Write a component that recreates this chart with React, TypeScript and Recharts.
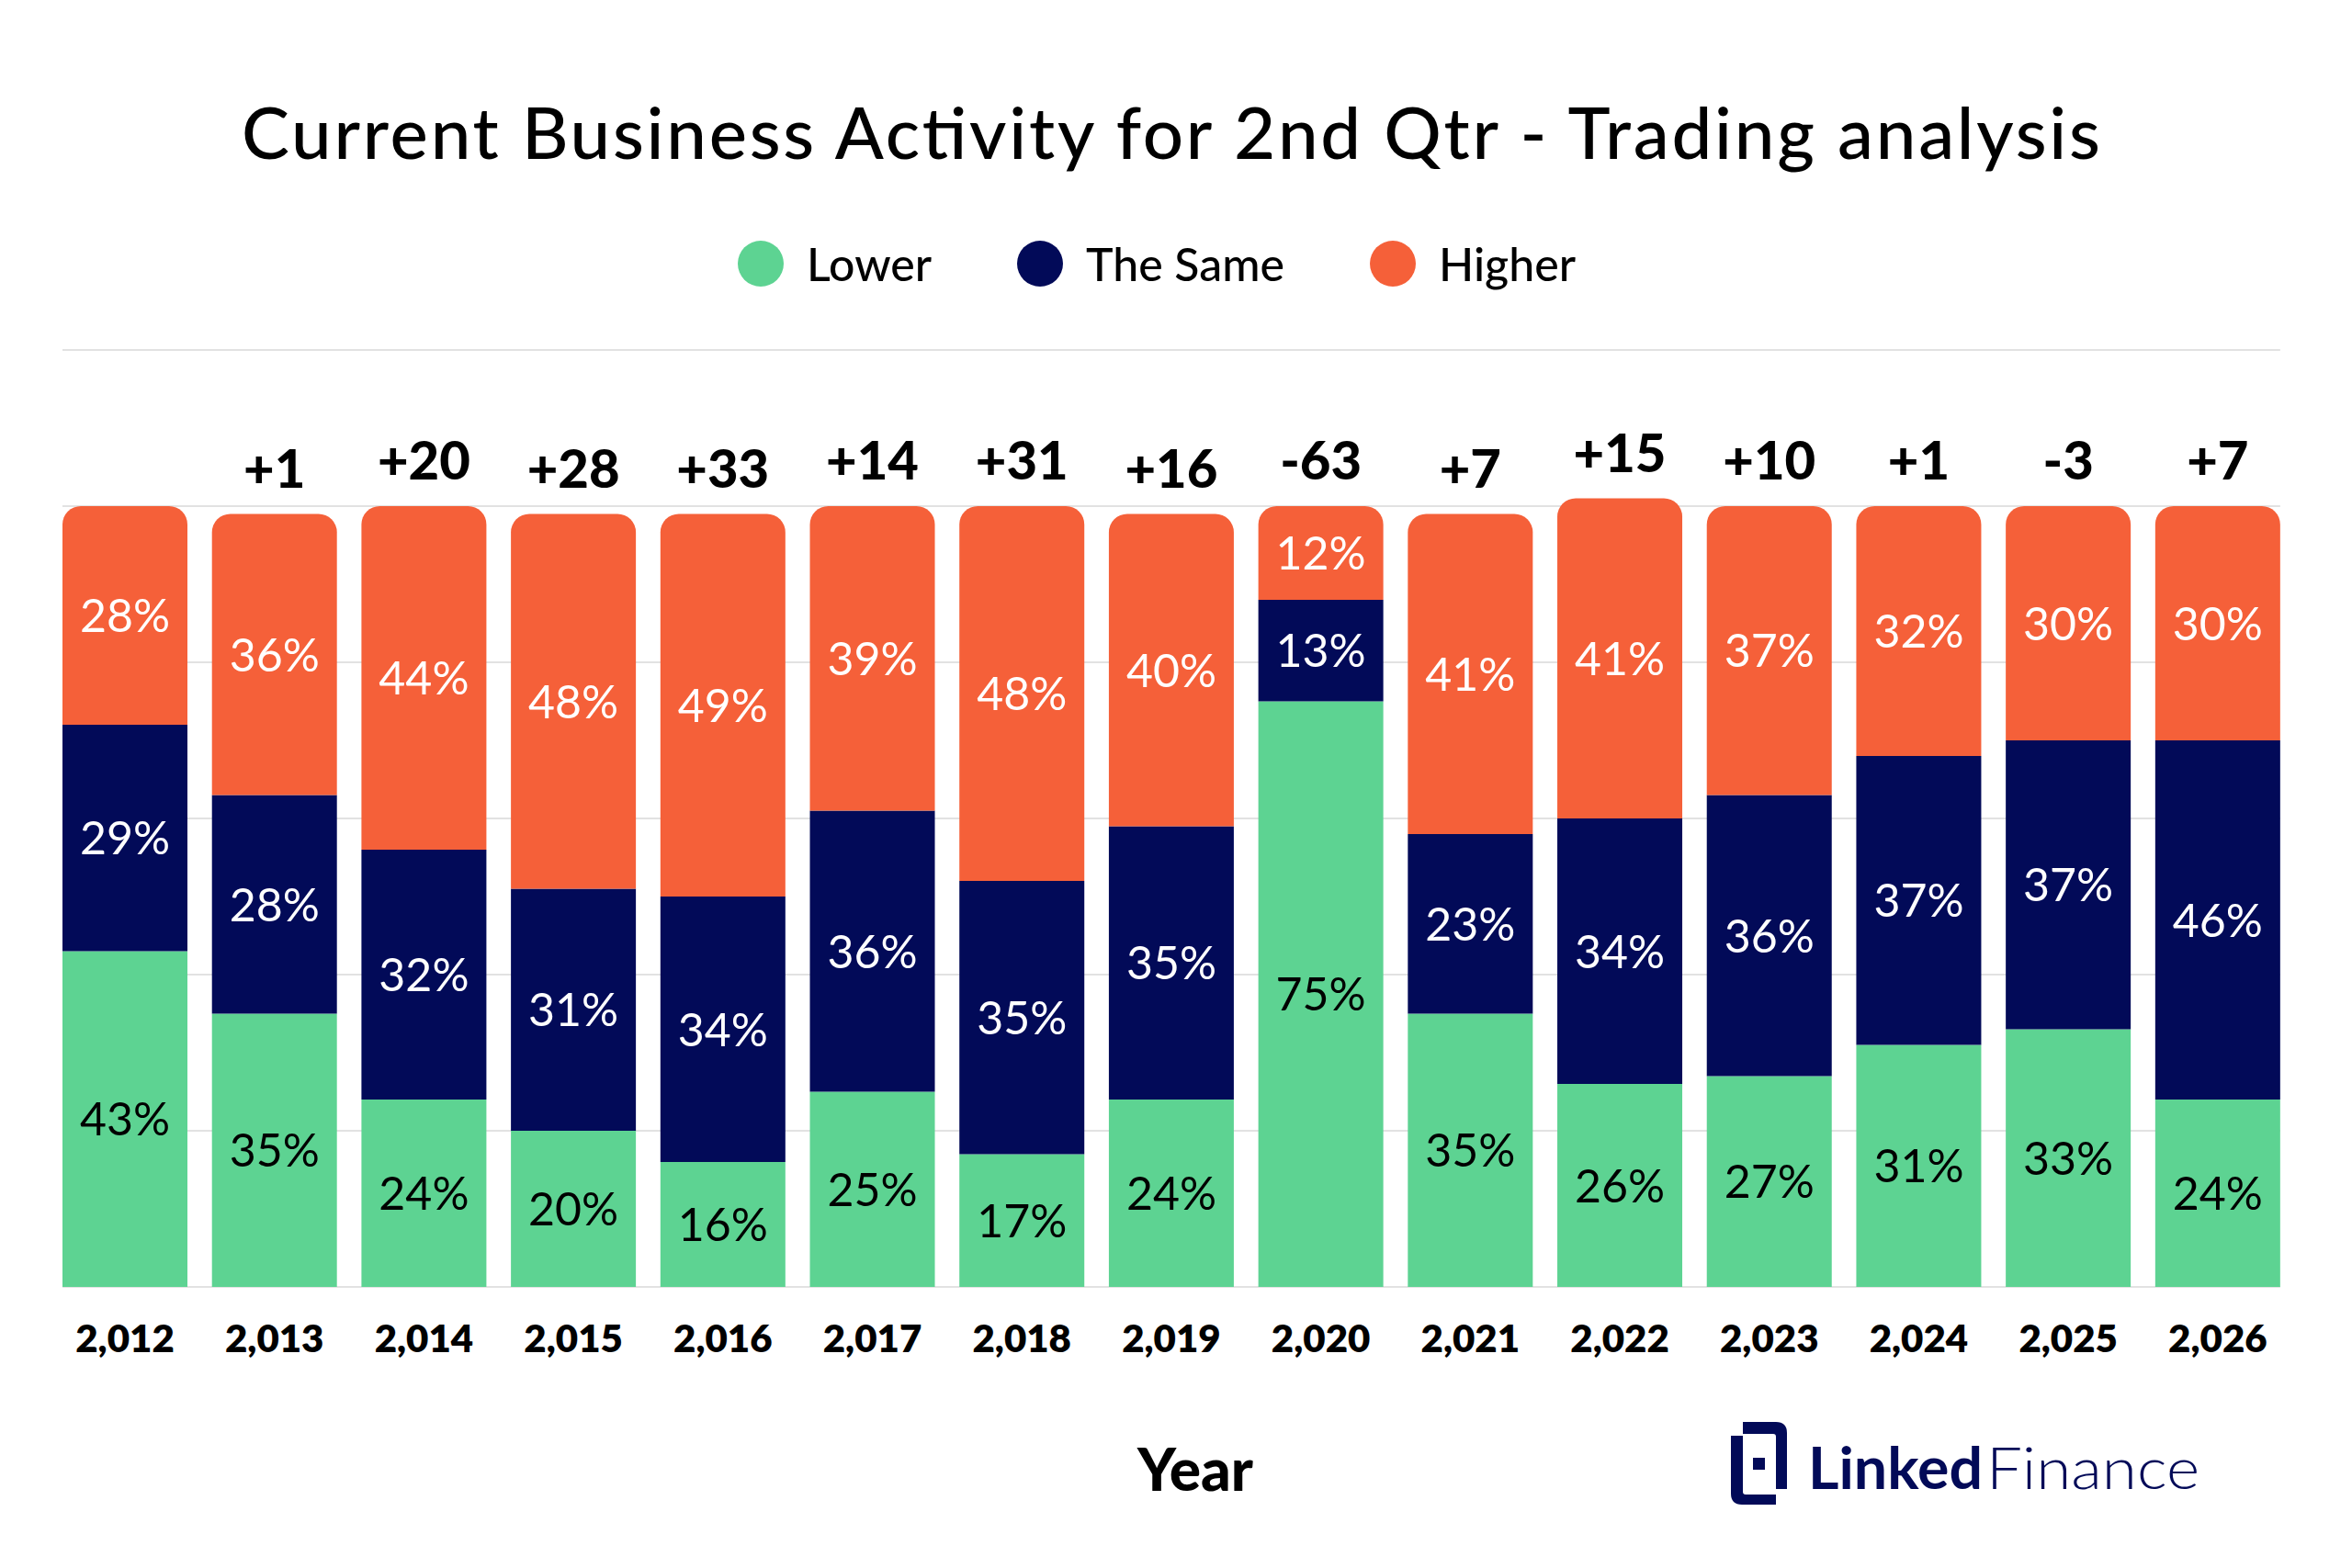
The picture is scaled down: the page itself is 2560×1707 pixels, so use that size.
import React from 'react';
import { BarChart, Bar, XAxis, YAxis, CartesianGrid, Legend, LabelList } from 'recharts';

// Survey answers per year (percent of respondents)
const years = [2012, 2013, 2014, 2015, 2016, 2017, 2018, 2019, 2020, 2021, 2022, 2023, 2024, 2025, 2026];
const lowerPct = [43, 35, 24, 20, 16, 25, 17, 24, 75, 35, 26, 27, 31, 33, 24];
const samePct = [29, 28, 32, 31, 34, 36, 35, 35, 13, 23, 34, 36, 37, 37, 46];
const higherPct = [28, 36, 44, 48, 49, 39, 48, 40, 12, 41, 41, 37, 32, 30, 30];
// net balance shown above each bar
const netBalance = ['', '+1', '+20', '+28', '+33', '+14', '+31', '+16', '-63', '+7', '+15', '+10', '+1', '-3', '+7'];
const seriesNames = ['Lower', 'The Same', 'Higher'];
const yTicks = [0, 20, 40, 60, 80, 100, 120];

const data = years.map((year, i) => ({
  year,
  lower: lowerPct[i],
  same: samePct[i],
  higher: higherPct[i],
  net: netBalance[i],
}));

const FONT = 'Lato, "Open Sans", sans-serif';
const GREEN = '#5DD392';
const NAVY = '#020A58';
const ORANGE = '#F56039';
const GRID = '#E2E2E2';

const W = 2560;
const H = 1707;
const BAR_GAP = 13.35; // half gap each side of a bar

const segmentLabel = (color: string) => (props: any) => {
  const { x, y, width, height, value } = props;
  return (
    <text
      x={x + width / 2}
      y={y + height / 2}
      dy="0.36em"
      textAnchor="middle"
      fill={color}
      fontSize={50}
      fontFamily={FONT}
    >
      {value}%
    </text>
  );
};

const netLabel = (props: any) => {
  const { x, y, width, value } = props;
  if (!value) return null;
  return (
    <text
      x={x + width / 2}
      y={y - 29}
      textAnchor="middle"
      fill="#000"
      fontSize={58}
      fontWeight={900}
      fontFamily={FONT}
    >
      {value}
    </text>
  );
};

const YearTick = (props: any) => {
  const { x, y, payload } = props;
  return (
    <text x={x} y={y + 71} textAnchor="middle" fill="#000" fontSize={42} fontWeight={800} fontFamily={FONT}>
      {Number(payload.value).toLocaleString('en-US')}
    </text>
  );
};

const YearLabel = (props: any) => {
  const { viewBox } = props;
  return (
    <text
      x={viewBox.x + viewBox.width / 2 + 26}
      y={1623}
      textAnchor="middle"
      fill="#000"
      fontSize={64}
      fontWeight={900}
      fontFamily={FONT}
    >
      Year
    </text>
  );
};

const gridLine = (props: any) => {
  const { x1, x2, y1, y2 } = props;
  return <line key={`g-${y1}`} x1={x1 + BAR_GAP} x2={x2 - BAR_GAP} y1={y1} y2={y2} stroke={GRID} strokeWidth={2} />;
};

const renderLegend = (props: any) => {
  const items = [...props.payload].sort(
    (a: any, b: any) => seriesNames.indexOf(a.value) - seriesNames.indexOf(b.value)
  );
  return (
    <div style={{ display: 'flex', alignItems: 'center', fontFamily: FONT }}>
      {items.map((entry: any, i: number) => (
        <div key={entry.value} style={{ display: 'flex', alignItems: 'center', marginRight: i < items.length - 1 ? 93 : 0 }}>
          <span style={{ width: 50, height: 50, borderRadius: '50%', background: entry.color, display: 'inline-block', marginRight: 25 }} />
          <span style={{ fontSize: 50, color: '#000', lineHeight: '50px', fontWeight: 500, whiteSpace: 'nowrap' }}>{entry.value}</span>
        </div>
      ))}
    </div>
  );
};

export default function App() {
  return (
    <div style={{ position: 'absolute', left: 0, top: 0, width: W, height: H, background: '#fff', overflow: 'hidden' }}>
      <svg width={W} height={H} style={{ position: 'absolute', left: 0, top: 0 }}>
        <text
          x={263}
          y={173}
          fontSize={78}
          fontWeight={500}
          fontFamily={FONT}
          fill="#000"
          textLength={2023}
          lengthAdjust="spacing"
        >
          Current Business Activity for 2nd Qtr - Trading analysis
        </text>
        {/* LinkedFinance logo */}
        <g fill={NAVY}>
          <path d="M1884 1563 H1897 V1624 Q1897 1627 1900 1627 H1933 V1638 H1896 Q1884 1638 1884 1626 Z" />
          <path d="M1897 1548 H1933 Q1945 1548 1945 1560 V1621 H1933 V1564 Q1933 1561 1930 1561 H1897 Z" />
          <rect x={1908} y={1587} width={13} height={13} />
        </g>
        <text x={1968} y={1621} fontSize={64} fontWeight={700} fontFamily={FONT} fill={NAVY} textLength={190} lengthAdjust="spacingAndGlyphs">
          Linked
        </text>
        <text x={2162} y={1621} fontSize={64} fontWeight={300} fontFamily={FONT} fill={NAVY} textLength={232} lengthAdjust="spacingAndGlyphs">
          Finance
        </text>
      </svg>
      <div style={{ position: 'absolute', left: 0, top: 0 }}>
        <BarChart
          width={W}
          height={H}
          data={data}
          margin={{ top: 381, right: 64.8, bottom: 276, left: 54.65 }}
          barCategoryGap={BAR_GAP}
        >
          <CartesianGrid vertical={false} horizontal={gridLine} />
          <XAxis
            dataKey="year"
            axisLine={false}
            tickLine={false}
            tickSize={0}
            tickMargin={0}
            height={30}
            interval={0}
            tick={<YearTick />}
            label={<YearLabel />}
          />
          <YAxis hide domain={[0, 120]} ticks={yTicks} />
          <Legend
            verticalAlign="middle"
            align="center"
            layout="horizontal"
            content={renderLegend}
            wrapperStyle={{ position: 'absolute', top: 262, left: 803, width: 'auto', height: 50 }}
          />
          <Bar dataKey="lower" name={seriesNames[0]} stackId="a" fill={GREEN} isAnimationActive={false}>
            <LabelList dataKey="lower" content={segmentLabel('#000')} />
          </Bar>
          <Bar dataKey="same" name={seriesNames[1]} stackId="a" fill={NAVY} isAnimationActive={false}>
            <LabelList dataKey="same" content={segmentLabel('#fff')} />
          </Bar>
          <Bar dataKey="higher" name={seriesNames[2]} stackId="a" fill={ORANGE} radius={[20, 20, 0, 0]} isAnimationActive={false}>
            <LabelList dataKey="higher" content={segmentLabel('#fff')} />
            <LabelList dataKey="net" content={netLabel} />
          </Bar>
        </BarChart>
      </div>
    </div>
  );
}
